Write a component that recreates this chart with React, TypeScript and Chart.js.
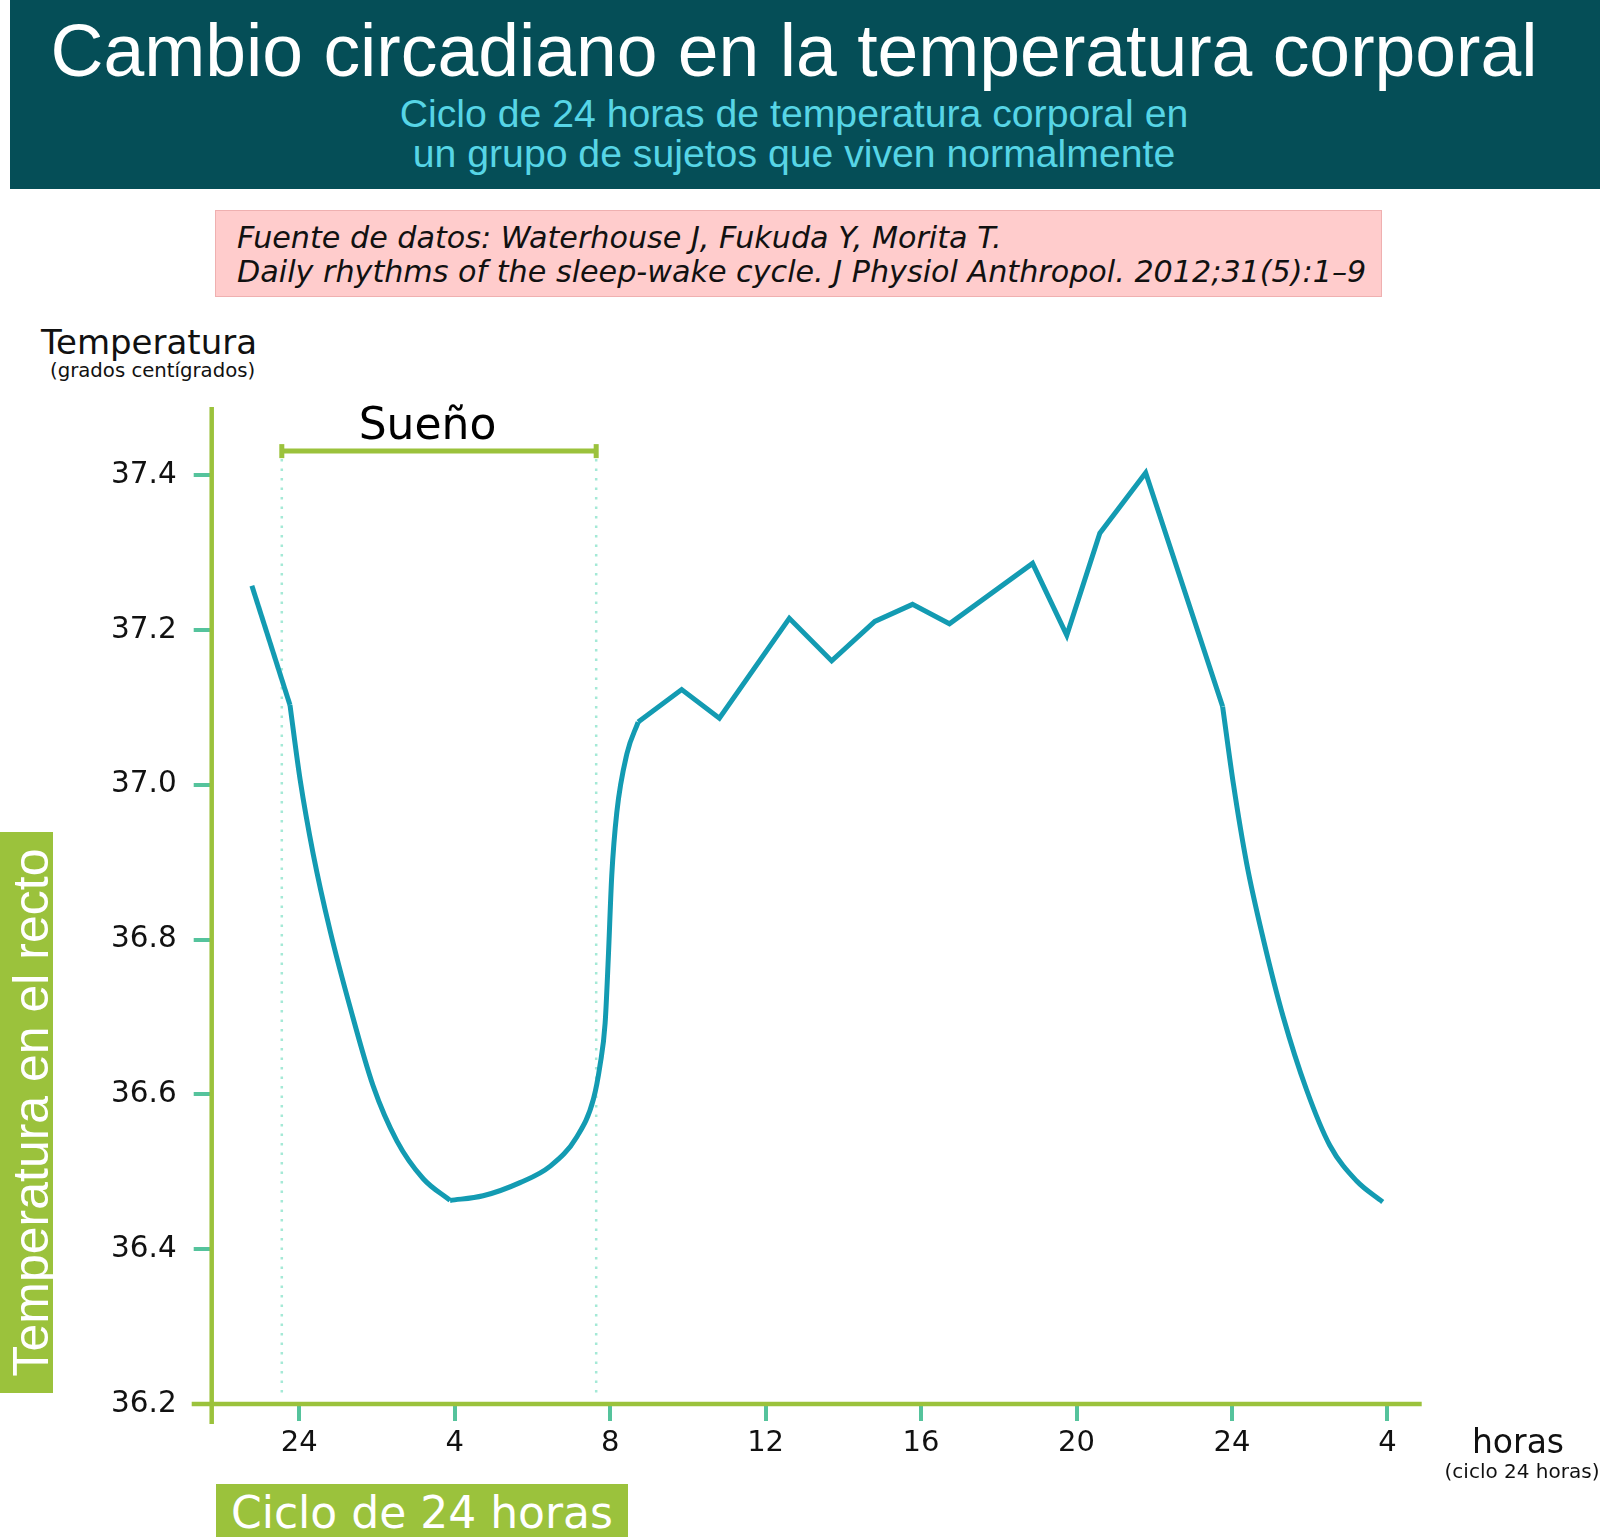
import React, { useEffect, useRef } from 'react';
import { Chart, registerables } from 'chart.js';

Chart.register(...registerables);

// Hours counted from the first midnight (0 = "24" on the axis)
const X_TICKS = [0, 4, 8, 12, 16, 20, 24, 28];
const X_TICK_LABELS = ['24', '4', '8', '12', '16', '20', '24', '4'];
const Y_TICKS = [36.2, 36.4, 36.6, 36.8, 37.0, 37.2, 37.4];

// Evening before sleep (straight piece)
const HORAS_TARDE = [-1.22, -0.24];
const TEMP_TARDE = [37.257, 37.103];

// Night: falling part (curved)
const HORAS_NOCHE_BAJA = [-0.24, 0.02, 0.36, 0.79, 1.3, 1.9, 2.51, 3.19, 3.88];
const TEMP_NOCHE_BAJA = [37.103, 37.007, 36.91, 36.812, 36.714, 36.611, 36.54, 36.491, 36.463];

// Night: rising part up to waking (curved)
const HORAS_NOCHE_SUBE = [3.88, 4.73, 5.68, 6.45, 7.14, 7.57, 7.74, 7.87, 7.95, 8.04, 8.17, 8.43, 8.72];
const TEMP_NOCHE_SUBE = [36.463, 36.469, 36.486, 36.507, 36.545, 36.594, 36.638, 36.692, 36.774, 36.882, 36.964, 37.04, 37.081];

// Daytime (straight pieces)
const HORAS_DIA = [8.72, 9.84, 10.81, 12.61, 13.7, 14.81, 15.78, 16.73, 18.87, 19.75, 20.6, 21.78, 23.76];
const TEMP_DIA = [37.081, 37.123, 37.086, 37.215, 37.16, 37.211, 37.233, 37.208, 37.286, 37.193, 37.325, 37.403, 37.101];

// Second night (curved)
const HORAS_NOCHE_2 = [23.76, 24.04, 24.38, 24.81, 25.32, 25.92, 26.52, 27.21, 27.88];
const TEMP_NOCHE_2 = [37.101, 37.0, 36.898, 36.8, 36.7, 36.606, 36.534, 36.488, 36.461];

// Sleep bracket
const SUENO_INICIO = -0.45;
const SUENO_FIN = 7.64;
const SUENO_TEMP = 37.431;
const SUENO_ETIQUETA_HORA = 3.3;

const VERDE = '#9bc23c';
const TEAL_TICK = '#55c39c';
const LINEA = '#139bb2';

const toPoints = (hs: number[], ts: number[]) => hs.map((h, i) => ({ x: h, y: ts[i] }));

const anotaciones = {
  id: 'anotaciones',
  beforeDatasetsDraw(chart: any) {
    const { ctx, chartArea } = chart;
    const x = chart.scales.x;
    const y = chart.scales.y;
    const xi = x.getPixelForValue(SUENO_INICIO);
    const xf = x.getPixelForValue(SUENO_FIN);
    const yb = y.getPixelForValue(SUENO_TEMP);
    ctx.save();

    // dotted guides
    ctx.strokeStyle = '#a4e9d6';
    ctx.lineWidth = 2.5;
    ctx.setLineDash([2.5, 7]);
    [xi, xf].forEach((px) => {
      ctx.beginPath();
      ctx.moveTo(px, yb + 8);
      ctx.lineTo(px, chartArea.bottom - 5);
      ctx.stroke();
    });
    ctx.setLineDash([]);

    // axes
    ctx.strokeStyle = VERDE;
    ctx.lineWidth = 4.5;
    ctx.beginPath();
    ctx.moveTo(chartArea.left, chartArea.top);
    ctx.lineTo(chartArea.left, chartArea.bottom + 20);
    ctx.stroke();
    ctx.beginPath();
    ctx.moveTo(chartArea.left - 20, chartArea.bottom);
    ctx.lineTo(chartArea.right, chartArea.bottom);
    ctx.stroke();

    // bracket
    ctx.lineWidth = 5;
    ctx.beginPath();
    ctx.moveTo(xi, yb);
    ctx.lineTo(xf, yb);
    ctx.stroke();
    ctx.fillStyle = VERDE;
    ctx.fillRect(xi - 2.5, yb - 7, 5, 14);
    ctx.fillRect(xf - 2.5, yb - 7, 5, 14);

    ctx.fillStyle = '#000';
    ctx.font = '44px "DejaVu Sans"';
    ctx.textAlign = 'center';
    ctx.textBaseline = 'alphabetic';
    ctx.fillText('Sueño', x.getPixelForValue(SUENO_ETIQUETA_HORA), yb - 12);
    ctx.restore();
  },
};

const CircadianChart: React.FC = () => {
  const chartRef = useRef<HTMLCanvasElement>(null);
  const chartInstance = useRef<Chart | null>(null);

  useEffect(() => {
    if (!chartRef.current) return;
    if (chartInstance.current) chartInstance.current.destroy();

    const recto = { tension: 0, borderJoinStyle: 'miter' as const };
    const curvo = { cubicInterpolationMode: 'monotone' as const, tension: 0.4 };
    const base = { borderColor: LINEA, borderWidth: 5, pointRadius: 0, fill: false };

    chartInstance.current = new Chart(chartRef.current, {
      type: 'line',
      data: {
        datasets: [
          { ...base, ...recto, data: toPoints(HORAS_TARDE, TEMP_TARDE) },
          { ...base, ...curvo, data: toPoints(HORAS_NOCHE_BAJA, TEMP_NOCHE_BAJA) },
          { ...base, ...curvo, data: toPoints(HORAS_NOCHE_SUBE, TEMP_NOCHE_SUBE) },
          { ...base, ...recto, data: toPoints(HORAS_DIA, TEMP_DIA) },
          { ...base, ...curvo, data: toPoints(HORAS_NOCHE_2, TEMP_NOCHE_2) },
        ],
      },
      options: {
        responsive: true,
        maintainAspectRatio: false,
        animation: false,
        layout: { padding: { top: 37, right: 18.3, bottom: 0, left: 0 } },
        plugins: { legend: { display: false }, tooltip: { enabled: false } },
        scales: {
          x: {
            type: 'linear',
            min: -2.254,
            max: 28.883,
            afterBuildTicks: (s: any) => {
              s.ticks = X_TICKS.map((v) => ({ value: v }));
            },
            afterFit: (s: any) => {
              s.height = 86;
            },
            grid: { drawOnChartArea: false, drawTicks: true, tickLength: 17, color: TEAL_TICK, lineWidth: 4 },
            border: { display: false },
            ticks: {
              callback: (_v: any, i: number) => X_TICK_LABELS[i],
              font: { family: 'DejaVu Sans', size: 29 },
              color: '#111',
              padding: 5,
              maxRotation: 0,
              autoSkip: false,
            },
          },
          y: {
            type: 'linear',
            min: 36.2,
            max: 37.488,
            afterBuildTicks: (s: any) => {
              s.ticks = Y_TICKS.map((v) => ({ value: v }));
            },
            afterFit: (s: any) => {
              s.width = 211.7;
            },
            grid: { drawOnChartArea: false, drawTicks: true, tickLength: 18, color: TEAL_TICK, lineWidth: 4 },
            border: { display: false },
            ticks: {
              callback: (v: any) => Number(v).toFixed(1),
              font: { family: 'DejaVu Sans', size: 29.5 },
              color: '#111',
              padding: 17,
            },
          },
        },
      },
      plugins: [anotaciones],
    });

    return () => {
      if (chartInstance.current) {
        chartInstance.current.destroy();
        chartInstance.current = null;
      }
    };
  }, []);

  return (
    <div style={{ position: 'absolute', left: 0, top: 370, width: 1440, height: 1120 }}>
      <canvas ref={chartRef}></canvas>
    </div>
  );
};

const sans = '"Liberation Sans", Arial, sans-serif';
const deja = '"DejaVu Sans", Verdana, sans-serif';

export default function App() {
  return (
    <div style={{ position: 'absolute', left: 0, top: 0, width: 1600, height: 1537, background: '#fff', overflow: 'hidden' }}>
      <div style={{ position: 'absolute', left: 10, top: 0, width: 1590, height: 189, background: '#054e57' }} />
      <div style={{ position: 'absolute', left: 0, top: 15, width: 1588, textAlign: 'center', fontFamily: sans, fontSize: 73.3, lineHeight: 1, color: '#fff', whiteSpace: 'nowrap' }}>
        Cambio circadiano en la temperatura corporal
      </div>
      <div style={{ position: 'absolute', left: 0, top: 94, width: 1588, textAlign: 'center', fontFamily: sans, fontSize: 39.2, lineHeight: '40px', color: '#57d5e6', whiteSpace: 'nowrap' }}>
        Ciclo de 24 horas de temperatura corporal en
        <br />
        un grupo de sujetos que viven normalmente
      </div>

      <div style={{ position: 'absolute', left: 215, top: 210, width: 1167, height: 87, boxSizing: 'border-box', background: '#ffcccc', border: '1px solid #efb0b0' }} />
      <div style={{ position: 'absolute', left: 237, top: 221, fontFamily: deja, fontStyle: 'italic', fontSize: 30.2, lineHeight: '34px', color: '#111', whiteSpace: 'nowrap' }}>
        Fuente de datos: Waterhouse J, Fukuda Y, Morita T.
        <br />
        Daily rhythms of the sleep-wake cycle. J Physiol Anthropol. 2012;31(5):1–9
      </div>

      <div style={{ position: 'absolute', left: 41, top: 325, fontFamily: deja, fontSize: 34, lineHeight: 1, color: '#111', whiteSpace: 'nowrap' }}>
        Temperatura
      </div>
      <div style={{ position: 'absolute', left: 50, top: 361, fontFamily: deja, fontSize: 19.7, lineHeight: 1, color: '#111', whiteSpace: 'nowrap' }}>
        (grados centígrados)
      </div>

      <CircadianChart />

      <div style={{ position: 'absolute', left: 0, top: 832, width: 53, height: 561, background: VERDE }} />
      <div style={{ position: 'absolute', left: -254, top: 1086, width: 561, height: 53, transform: 'rotate(-90deg)', textAlign: 'center', fontFamily: sans, fontSize: 50, lineHeight: '62px', color: '#fff', whiteSpace: 'nowrap' }}>
        Temperatura en el recto
      </div>

      <div style={{ position: 'absolute', left: 216, top: 1484, width: 412, height: 53, background: VERDE }} />
      <div style={{ position: 'absolute', left: 216, top: 1491, width: 412, textAlign: 'center', fontFamily: deja, fontSize: 44, lineHeight: 1, color: '#fff', whiteSpace: 'nowrap' }}>
        Ciclo de 24 horas
      </div>

      <div style={{ position: 'absolute', left: 1418, top: 1425, width: 200, textAlign: 'center', fontFamily: deja, fontSize: 33, lineHeight: 1, color: '#111', whiteSpace: 'nowrap' }}>
        horas
      </div>
      <div style={{ position: 'absolute', left: 1422, top: 1461, width: 200, textAlign: 'center', fontFamily: deja, fontSize: 20, lineHeight: 1, color: '#111', whiteSpace: 'nowrap' }}>
        (ciclo 24 horas)
      </div>
    </div>
  );
}
